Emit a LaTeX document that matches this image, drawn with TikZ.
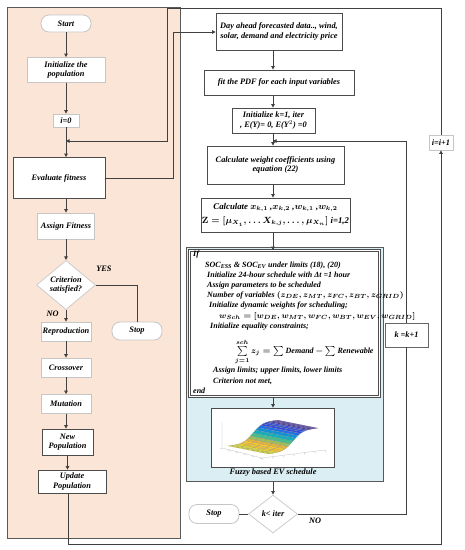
\documentclass[tikz,border=0pt]{standalone}
\usepackage{fontspec}
\setmainfont{Liberation Serif}
\usetikzlibrary{arrows.meta, calc, positioning, shapes.geometric}

\definecolor{peach}{HTML}{FBE5D6}
\definecolor{paleblue}{HTML}{DAEEF3}
\definecolor{pa0}{RGB}{62,38,168}
\definecolor{pa1}{RGB}{46,75,220}
\definecolor{pa2}{RGB}{30,110,230}
\definecolor{pa3}{RGB}{15,145,215}
\definecolor{pa4}{RGB}{20,175,185}
\definecolor{pa5}{RGB}{70,190,140}
\definecolor{pa6}{RGB}{160,190,90}
\definecolor{pa7}{RGB}{230,180,60}
\definecolor{pa8}{RGB}{250,200,40}
\definecolor{pa9}{RGB}{245,240,20}

\begin{document}
\begin{tikzpicture}[
            x=1pt, y=-1pt,
            every node/.style={font=\fontsize{8.3}{9.5}\selectfont\bfseries\itshape},
            procbox/.style={rectangle, draw=gray!45, line width=0.8pt, fill=white,
            inner sep=1pt, align=center},
            dbox/.style={procbox, draw=black!70},
            term/.style={procbox, rounded corners=8pt},
            decision/.style={diamond, draw=gray!40, line width=0.8pt, fill=white,
            inner sep=0pt, align=center},
            conn/.style={draw=black!75, line width=0.8pt},
            arr/.style={conn, -{Triangle[length=3.5pt, width=3.5pt]}},
            lbl/.style={inner sep=1pt}
        ]
\useasboundingbox (0,0) rectangle (465,550);

% ----- Hintergrundflaechen -----
\draw[draw=black!65, line width=1pt, fill=peach] (7,7) rectangle (180,538);
\node[draw=black!65, line width=1pt, fill=paleblue, minimum width=197pt,
      minimum height=234pt, inner sep=0pt] (bluepanel) at (284.5,364) {};

% ----- GA (linke Spalte) -----
\node[term, minimum width=50pt, minimum height=17pt] (start) at (66,23.5) {Start};
\node[procbox, minimum width=78pt, minimum height=25pt] (init) at (66,70) {Initialize the\\population};
\node[procbox, minimum width=26pt, minimum height=13pt] (izero) at (66,120.5) {i=0};
\node[dbox, minimum width=92pt, minimum height=41pt] (evalf) at (59,178) {Evaluate fitness};
\node[procbox, minimum width=57pt, minimum height=26pt] (assign) at (66,226) {Assign Fitness};
\node[decision, minimum width=59pt, minimum height=48pt] (crit) at (66,285) {Criterion\\satisfied?};
\node[procbox, minimum width=50pt, minimum height=19pt] (repro) at (66,331.5) {Reproduction};
\node[term, minimum width=50pt, minimum height=18pt] (stopl) at (137,331) {Stop};
\node[procbox, minimum width=50pt, minimum height=19pt] (cross) at (66,367.5) {Crossover};
\node[procbox, minimum width=50pt, minimum height=19pt] (mut) at (66,404) {Mutation};
\node[dbox, minimum width=51pt, minimum height=26pt] (newpop) at (67.5,442) {New\\Population};
\node[dbox, minimum width=68pt, minimum height=23pt] (update) at (72,481.5) {Update\\Population};

% ----- Planung (rechte Spalte) -----
\node[dbox, minimum width=126pt, minimum height=37pt] (dayahead) at (279,31.5)
      {Day ahead forecasted data.., wind,\\solar, demand and electricity price};
\node[dbox, minimum width=150pt, minimum height=25pt] (fitpdf) at (279,82.5)
      {fit the PDF for each input variables};
\node[dbox, minimum width=83pt, minimum height=25pt] (initk) at (273.5,120.5)
      {Initialize k=1, iter\\, E(Y)= 0, E(Y$^2$) =0};
\node[dbox, minimum width=137pt, minimum height=38pt] (calcw) at (275.5,165)
      {Calculate weight coefficients using\\equation (22)};
\node[dbox, minimum width=125pt, minimum height=34pt,
      font=\fontsize{8.8}{11}\selectfont\bfseries\itshape\boldmath] (calcx) at (275.5,215)
      {Calculate $x_{k,1}$ ,$x_{k,2}$ ,$w_{k,1}$ ,$w_{k,2}$\\[3pt]
       $\mathbf{Z}=\left[\mu_{X_1},\ldots X_{k,j},\ldots,\mu_{X_n}\right]$ i=1,2};
\node[draw=black!70, line width=0.6pt, double=white, double distance=1.2pt, fill=white,
      minimum width=190pt, minimum height=146pt, inner sep=0pt] (ifbox) at (284.5,323.5) {};
\node[anchor=north west, align=left, inner sep=0pt,
      font=\fontsize{8}{10.2}\selectfont\bfseries\itshape\boldmath] (iftext) at (193,251)
      {If\\
       \hspace*{12pt}SOC\textsubscript{ESS} \& SOC\textsubscript{EV} under limits (18), (20)\\
       \hspace*{14pt}Initialize 24-hour schedule with Δt =1 hour\\
       \hspace*{14pt}Assign parameters to be scheduled\\
       \hspace*{14pt}Number of variables $(z_{DE}, z_{MT}, z_{FC}, z_{BT}, z_{GRID})$\\
       \hspace*{16pt}Initialize dynamic weights for scheduling;\\
       \hspace*{26pt}$w_{Sch}=[w_{DE}, w_{MT}, w_{FC}, w_{BT}, w_{EV}, w_{GRID}]$\\
       \hspace*{17pt}Initialize equality constraints;\\[8pt]
       \hspace*{42pt}$\sum\limits_{j=1}^{sch} z_j = \sum$ Demand $-\sum$ Renewable\\[2pt]
       \hspace*{20pt}Assign limits; upper limits, lower limits\\
       \hspace*{20pt}Criterion not met,\\
       end};
\node[dbox, minimum width=123pt, minimum height=59pt, inner sep=0pt] (figbox) at (272.5,437.5) {};
\node[lbl] (fuzzy) at (273,473) {Fuzzy based EV schedule};
\node[decision, minimum width=49pt, minimum height=38pt] (kiter) at (273,514) {k< iter};
\node[term, minimum width=50pt, minimum height=19pt] (stopr) at (214,514) {Stop};
\node[dbox, draw=black!60, minimum width=43pt, minimum height=24pt] (kinc) at (406.5,335) {k =k+1};
\node[procbox, minimum width=24pt, minimum height=15pt] (iinc) at (441,142.5) {i=i+1};

% ----- Flaeche im Bild -----
\draw[gray!50, line width=0.3pt] (222,422) -- (222,448) -- (262,458) -- (325,450);
\foreach \k in {0,...,5}
  \draw[gray!50, line width=0.3pt] ($(222,448)!\k/5!(262,458)$) -- ++(-2,1);
\foreach \k in {0,...,6}
  \draw[gray!50, line width=0.3pt] ($(262,458)!\k/6!(325,450)$) -- ++(1,2);
\foreach \i in {0,...,19}{
  \pgfmathsetmacro\ua{\i/20}
  \pgfmathsetmacro\ub{(\i+1)/20}
  \pgfmathsetmacro\sa{1/(1+exp(-10*(\ua-0.5)))}
  \pgfmathsetmacro\sb{1/(1+exp(-10*(\ub-0.5)))}
  \pgfmathtruncatemacro\ci{round(9*(1-(\sa+\sb)/2))}
  \filldraw[fill=pa\ci, draw=black!45, line width=0.1pt]
    ({228+50*\ua},{446-4*\ua-22*\sa}) -- ({228+50*\ub},{446-4*\ub-22*\sb})
    -- ({268+50*\ub},{454-4*\ub-22*\sb}) -- ({268+50*\ua},{454-4*\ua-22*\sa}) -- cycle;
}
\foreach \v in {0.2,0.4,0.6,0.8}
  \draw[black!45, line width=0.1pt] plot[domain=0:1, samples=21, variable=\t]
    ({228+50*\t+40*\v},{446-4*\t+8*\v-22/(1+exp(-10*(\t-0.5)))});

% ----- Hilfspunkte -----
\coordinate (ijoin) at (66,141);
\coordinate (kjoin) at (273,141);
\coordinate (ej) at (173,32);
\coordinate (tl) at (167,8);
\coordinate (bl) at (68,544);

% ----- Kanten links -----
\draw[arr] (start) -- (init);
\draw[arr] (init) -- (izero);
\draw[arr] (izero) -- (izero |- evalf.north);
\draw[arr] (evalf.south -| assign) -- (assign);
\draw[arr] (assign) -- (crit);
\draw[arr] (crit) -- node[lbl, left, pos=0.3, xshift=-6pt] {NO} (repro);
\draw[arr] (repro) -- (cross);
\draw[arr] (cross) -- (mut);
\draw[arr] (mut) -- (mut |- newpop.north);
\draw[arr] (newpop) -- (newpop |- update.north);
\draw[conn] (crit.east) -| (stopl.north);
\node[lbl] (yes) at (104,269) {YES};

% ----- Rueckfuehrungen -----
\draw[arr] (update.south -| bl) -- (bl) -- (bl -| iinc) -- (iinc.south);
\draw[arr] (iinc.north) -- (iinc |- tl) -- (tl) -- (tl |- ijoin) -- (ijoin);
\draw[arr] (evalf.east) -- (evalf.east -| ej) -- (ej) -- (ej -| dayahead.west);

% ----- Kanten rechts -----
\draw[arr] (dayahead.south -| kjoin) -- (fitpdf.north -| kjoin);
\draw[arr] (fitpdf.south -| kjoin) -- (initk.north -| kjoin);
\draw[arr] (initk.south -| kjoin) -- (calcw.north -| kjoin);
\draw[arr] (calcw.south -| kjoin) -- (calcx.north -| kjoin);
\draw[arr] (calcx.south -| kjoin) -- (ifbox.north -| kjoin);
\draw[arr] (ifbox.south -| kjoin) -- (figbox.north -| kjoin);
\draw[arr] (bluepanel.south -| kjoin) -- (kiter.north);
\draw[conn] (kiter.west) -- (stopr.east);
\draw[conn] (kiter.east) -| (kinc.south);
\draw[arr] (kinc.north) |- (kjoin);
\node[lbl] (nor) at (315,521) {NO};

\end{tikzpicture}
\end{document}
